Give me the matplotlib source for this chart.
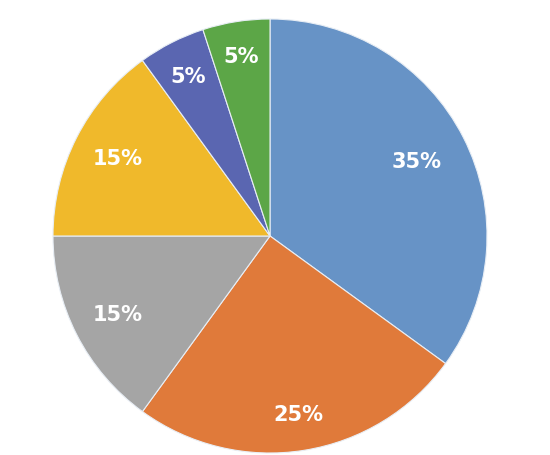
import numpy as np
import matplotlib.pyplot as plt

shares = [35, 25, 15, 15, 5, 5]
labels = ['35%', '25%', '15%', '15%', '5%', '5%']
colors = ['#6793C6', '#E07A3A', '#A5A5A5', '#F0B92B', '#5A66B1', '#5CA647']
label_dist = [0.76, 0.83, 0.79, 0.79, 0.83, 0.84]

fig = plt.figure(figsize=(5.5, 4.56), dpi=100)
ax = fig.add_axes([53 / 550, 2 / 456, 434 / 550, 434 / 456])

wedges, _ = ax.pie(shares, colors=colors, startangle=90, counterclock=False,
                   radius=1.0, wedgeprops=dict(edgecolor='#e8eef5', linewidth=0.8))

# labels placed at each wedge's mid angle
for w, lab, d in zip(wedges, labels, label_dist):
    mid = np.deg2rad((w.theta1 + w.theta2) / 2)
    ax.text(d * np.cos(mid), d * np.sin(mid), lab, ha='center', va='center',
            color='white', fontsize=15, fontweight='bold')

ax.set_xlim(-1, 1)
ax.set_ylim(-1, 1)
ax.set_aspect('equal')
ax.axis('off')

fig.savefig('out.png', dpi=100)
